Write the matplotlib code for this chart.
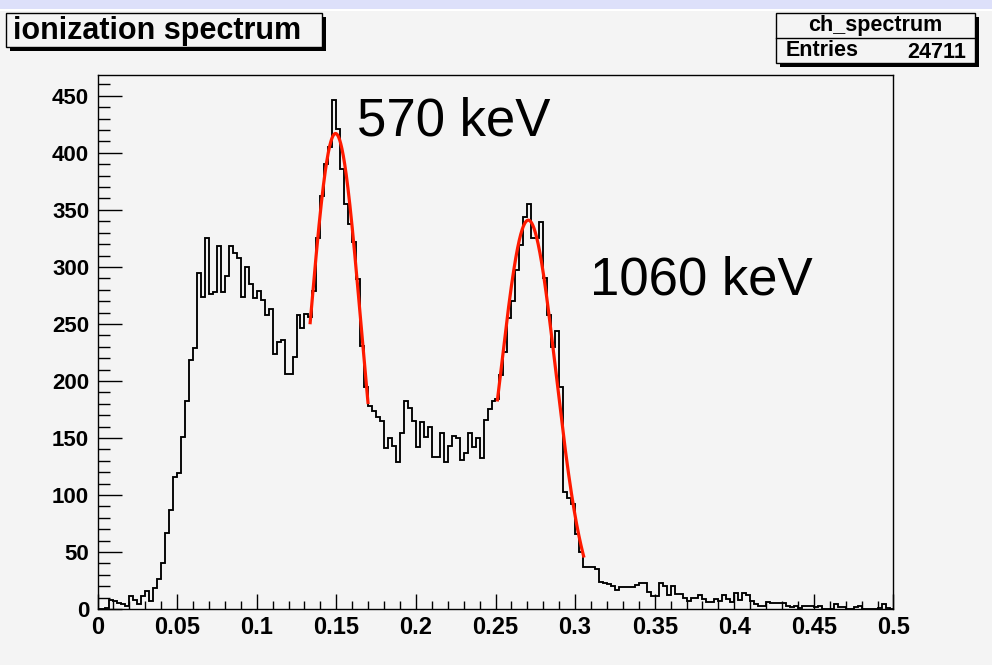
import numpy as np
import matplotlib
matplotlib.use("Agg")
import matplotlib.pyplot as plt
from matplotlib.patches import Rectangle
from matplotlib.ticker import MultipleLocator, FuncFormatter

# ---- histogram definition -------------------------------------------------
hist_name = "ch_spectrum"
hist_title = "ionization spectrum"
x_lo, x_hi, n_bins = 0.0, 0.5, 200
entries = 24711

counts = [
    0, 0, 1, 8, 7, 5, 4, 3, 11, 8,
    4, 11, 16, 7, 18, 26, 40, 67, 87, 116,
    119, 151, 182, 218, 229, 295, 274, 325, 276, 278,
    318, 278, 292, 318, 312, 308, 274, 300, 285, 273,
    279, 271, 258, 263, 224, 234, 236, 206, 206, 221,
    258, 246, 259, 256, 279, 325, 362, 390, 405, 446,
    421, 386, 355, 338, 322, 289, 231, 195, 178, 174,
    168, 165, 141, 150, 143, 129, 154, 182, 176, 165,
    142, 164, 151, 160, 133, 133, 154, 129, 143, 152,
    150, 131, 137, 154, 142, 150, 132, 166, 175, 182,
    184, 205, 225, 255, 270, 297, 319, 344, 355, 325,
    325, 339, 290, 258, 230, 244, 195, 103, 97, 92,
    66, 50, 37, 37, 37, 35, 24, 23, 22, 20,
    17, 19, 19, 19, 19, 21, 23, 23, 15, 11,
    11, 23, 20, 12, 20, 13, 13, 10, 7, 10,
    10, 12, 9, 6, 6, 9, 7, 12, 9, 6,
    14, 8, 14, 12, 7, 4, 3, 3, 6, 5,
    5, 5, 5, 3, 2, 3, 1, 3, 3, 3,
    2, 3, 0, 0, 0, 4, 2, 2, 0, 0,
    2, 3, 0, 0, 0, 0, 1, 4, 1, 0,
]

# Gaussian fits to the two photopeaks: (amplitude, mean, sigma, fit range)
fit1 = (417.0, 0.1495, 0.0158, (0.1335, 0.1700))
fit2 = (341.0, 0.2706, 0.0174, (0.2511, 0.3056))
peak_labels = [("570 keV", 0.163, 415), ("1060 keV", 0.3094, 276)]

x_tick_labels = ["0", "0.05", "0.1", "0.15", "0.2", "0.25", "0.3",
                 "0.35", "0.4", "0.45", "0.5"]

# ---- figure ---------------------------------------------------------------
W, H = 992, 665
BG = "#f4f4f4"
FONT = "Liberation Sans"
plt.rcParams["font.family"] = [FONT, "DejaVu Sans"]

fig = plt.figure(figsize=(W / 100, H / 100), dpi=100, facecolor=BG)

# pixel-space overlay for the canvas decorations (title pad, stats box)
ov = fig.add_axes([0, 0, 1, 1])
ov.set_xlim(0, W)
ov.set_ylim(H, 0)
ov.axis("off")
ov.add_patch(Rectangle((0, 0), W, 9, fc="#dde0fa", ec="none"))
ov.add_patch(Rectangle((0, 9), W, 2, fc="white", ec="none"))

# title pave with shadow
ov.add_patch(Rectangle((10, 17), 316, 34, fc="black", ec="none"))
ov.add_patch(Rectangle((6, 13), 316, 34, fc=BG, ec="black", lw=1.0))
ov.text(13, 31, hist_title, fontsize=22, fontweight="bold",
        ha="left", va="center", color="black")

# stats box with shadow
ov.add_patch(Rectangle((780, 17), 199, 50, fc="black", ec="none"))
ov.add_patch(Rectangle((776, 13), 199, 50, fc=BG, ec="black", lw=1.0))
ov.plot([776, 975], [38, 38], color="black", lw=1.0)
ov.text(875.5, 25.5, hist_name, fontsize=15.5, fontweight="bold",
        ha="center", va="center")
ov.text(786, 51, "Entries", fontsize=15.5, fontweight="bold",
        ha="left", va="center")
ov.text(966, 52, f"{entries}", fontsize=15.5, fontweight="bold",
        ha="right", va="center")

# main pad
left, right, top, bottom = 97.5, 893.5, 75.0, 609.0
ax = fig.add_axes([left / W, (H - bottom) / H, (right - left) / W, (bottom - top) / H])
ax.set_facecolor(BG)

edges = np.linspace(x_lo, x_hi, n_bins + 1)
ax.stairs(counts, edges, color="black", lw=1.35, baseline=None)

for amp, mean, sigma, (lo, hi) in (fit1, fit2):
    xs = np.linspace(lo, hi, 300)
    ax.plot(xs, amp * np.exp(-0.5 * ((xs - mean) / sigma) ** 2),
            color="#ff1a00", lw=2.3, solid_capstyle="butt")

for txt, xv, yv in peak_labels:
    ax.text(xv, yv, txt, fontsize=38, ha="left", va="baseline", color="black")

ax.set_xlim(x_lo, x_hi)
ax.set_ylim(0, 1.05 * max(counts))

ax.xaxis.set_major_locator(MultipleLocator(0.05))
ax.xaxis.set_minor_locator(MultipleLocator(0.01))
ax.yaxis.set_major_locator(MultipleLocator(50))
ax.yaxis.set_minor_locator(MultipleLocator(10))
ax.xaxis.set_major_formatter(FuncFormatter(
    lambda v, p: x_tick_labels[int(round(v / 0.05))] if 0 <= round(v / 0.05) < len(x_tick_labels) else ""))
ax.yaxis.set_major_formatter(FuncFormatter(lambda v, p: f"{int(round(v))}"))

ax.tick_params(axis="y", which="major", direction="in", length=17, width=1.0,
               labelsize=16, pad=6)
ax.tick_params(axis="y", which="minor", direction="in", length=8.5, width=1.0)
ax.tick_params(axis="x", which="major", direction="in", length=11, width=1.0,
               labelsize=17, pad=5)
ax.tick_params(axis="x", which="minor", direction="in", length=5.5, width=1.0)
for lab in ax.get_xticklabels() + ax.get_yticklabels():
    lab.set_fontweight("bold")
for sp in ax.spines.values():
    sp.set_linewidth(1.0)
    sp.set_color("black")

fig.savefig("out.png", dpi=100, facecolor=BG)
